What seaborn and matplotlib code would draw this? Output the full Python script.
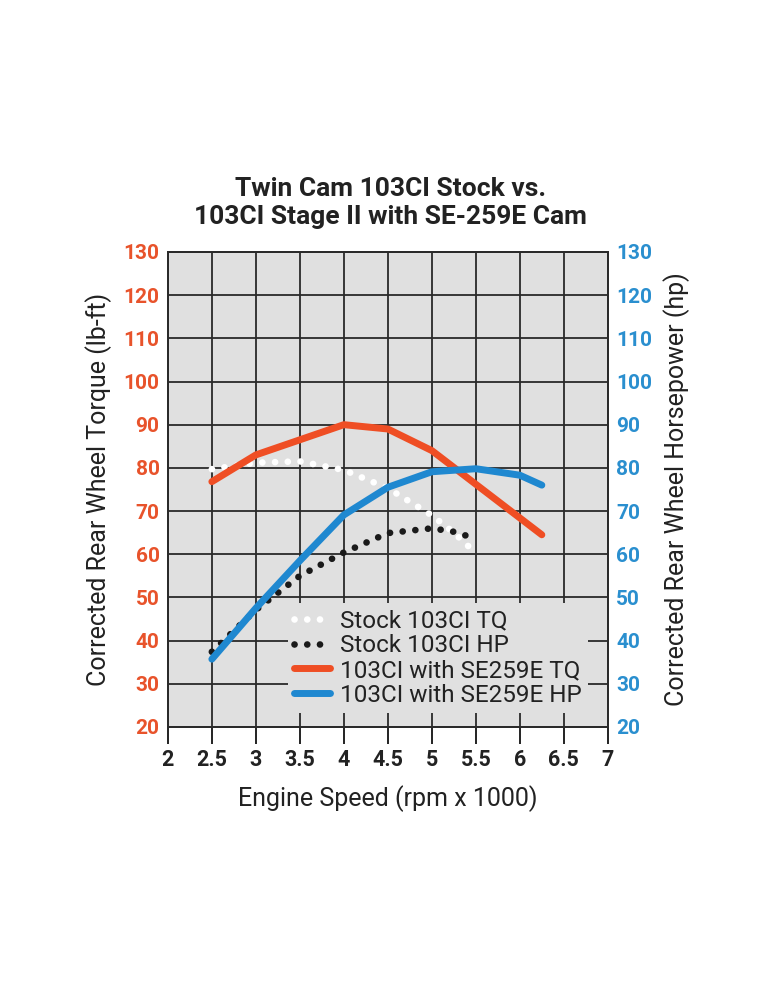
import matplotlib
matplotlib.use("Agg")
import matplotlib.pyplot as plt
import seaborn as sns
from matplotlib.lines import Line2D

# values
rpm_stock = [2.5, 3.0, 3.5, 4.0, 4.5, 5.0, 5.25, 5.47]
stock_tq = [79.7, 81.2, 81.5, 79.5, 75.3, 69.0, 65.0, 60.8]
stock_hp = [37.4, 47.1, 55.0, 60.4, 64.9, 66.0, 65.2, 63.8]

rpm_se_tq = [2.5, 3.0, 3.5, 4.0, 4.5, 5.0, 6.25]
se_tq = [76.8, 83.0, 86.5, 90.0, 89.0, 84.0, 64.5]
rpm_se_hp = [2.5, 3.0, 3.5, 4.0, 4.5, 5.0, 5.5, 6.0, 6.25]
se_hp = [35.7, 47.5, 58.5, 69.1, 75.5, 79.1, 79.8, 78.3, 76.0]

x_ticks = [2, 2.5, 3, 3.5, 4, 4.5, 5, 5.5, 6, 6.5, 7]
y_ticks = list(range(20, 131, 10))

labels = ["Stock 103CI TQ", "Stock 103CI HP", "103CI with SE259E TQ", "103CI with SE259E HP"]

RED = "#ef4e24"
BLUE = "#1f88d0"
TQ_TXT = "#e8532b"
HP_TXT = "#2a8fcf"

sns.set_style("white")
plt.rcParams["font.family"] = ["Roboto", "DejaVu Sans"]

fig = plt.figure(figsize=(7.7, 9.9), dpi=100)
ax = fig.add_axes([0.218, 0.2657, 0.5714, 0.4798])
ax.set_facecolor("#e0e0e0")
ax2 = ax.twinx()

dot_style = dict(linestyle=(0, (0.01, 1.9)), dash_capstyle="round", linewidth=4.8)

sns.lineplot(x=rpm_stock, y=stock_tq, ax=ax, color="white", **dot_style)
sns.lineplot(x=rpm_se_tq, y=se_tq, ax=ax, color=RED, linewidth=5, solid_capstyle="round")
sns.lineplot(x=rpm_stock, y=stock_hp, ax=ax2, color="#1a1a1a", **dot_style)
sns.lineplot(x=rpm_se_hp, y=se_hp, ax=ax2, color=BLUE, linewidth=5, solid_capstyle="round")

for a in (ax, ax2):
    a.set_xlim(2, 7)
    a.set_ylim(20, 130)
    a.set_yticks(y_ticks)
ax.set_xticks(x_ticks)
ax.set_xticklabels([f"{t:g}" for t in x_ticks], fontsize=15.5, fontweight="bold", color="#222222")
ax.set_yticklabels([str(t) for t in y_ticks], fontsize=15, fontweight="bold", color=TQ_TXT)
ax2.set_yticklabels([str(t) for t in y_ticks], fontsize=15, fontweight="bold", color=HP_TXT)
ax.tick_params(axis="y", length=0, pad=6)
ax.tick_params(axis="x", length=0, pad=16)
ax2.tick_params(axis="y", length=0, pad=6)

# tick marks below the frame (grid lines poking out)
ax.vlines(x_ticks, -0.035, 0, transform=ax.get_xaxis_transform(), colors="#222222",
          linewidth=1.4, clip_on=False)

ax.grid(True, color="#2a2a2a", linewidth=1.3)
ax.set_axisbelow(True)
for a in (ax, ax2):
    for s in a.spines.values():
        s.set_color("#2a2a2a")
        s.set_linewidth(1.3)

ax.set_xlabel("Engine Speed (rpm x 1000)", fontsize=18, color="#222222", labelpad=10)
ax.set_ylabel("Corrected Rear Wheel Torque (lb-ft)", fontsize=18, color="#222222", labelpad=8)
ax2.set_ylabel("Corrected Rear Wheel Horsepower (hp)", fontsize=18, color="#222222", labelpad=8)

fig.text(0.507, 0.795, "Twin Cam 103CI Stock vs.\n103CI Stage II with SE-259E Cam",
         ha="center", va="center", fontsize=19, fontweight="bold", color="#222222",
         linespacing=1.2)

handles = [
    Line2D([], [], color="white", **dot_style),
    Line2D([], [], color="#1a1a1a", **dot_style),
    Line2D([], [], color=RED, linewidth=5, solid_capstyle="round"),
    Line2D([], [], color=BLUE, linewidth=5, solid_capstyle="round"),
]
leg = ax2.legend(handles, labels, loc="lower right", bbox_to_anchor=(0.955, 0.03),
                 fontsize=17.5, frameon=True, facecolor="#e0e0e0", edgecolor="none",
                 framealpha=1, handlelength=1.5, handletextpad=0.4, labelspacing=0.07,
                 borderpad=0.25, borderaxespad=0.0)
for t in leg.get_texts():
    t.set_color("#222222")

fig.savefig("out.png", dpi=100, facecolor="white")
